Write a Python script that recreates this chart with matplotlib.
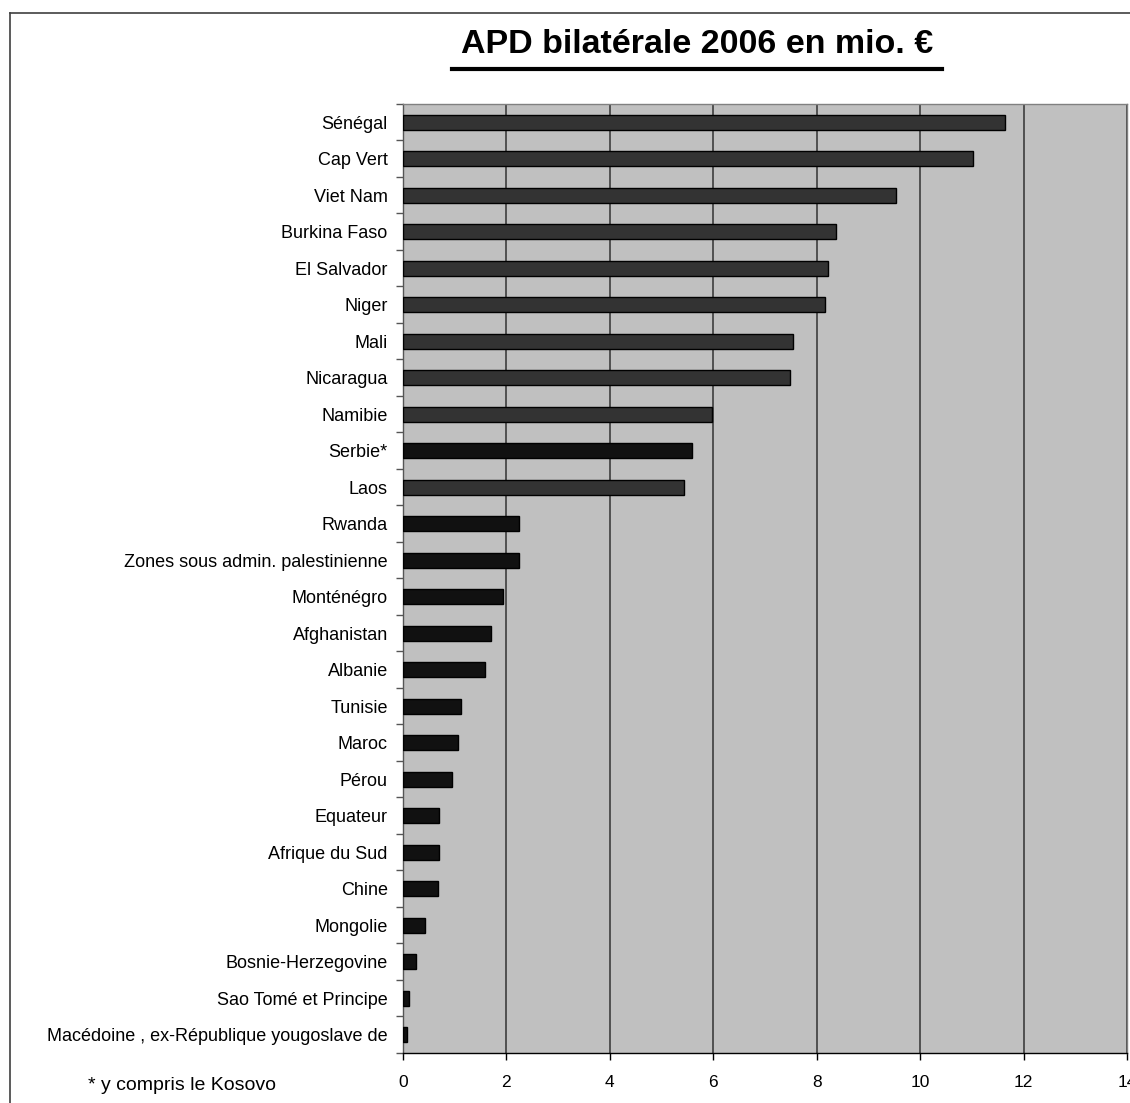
import matplotlib
matplotlib.use("Agg")
import matplotlib.pyplot as plt
from matplotlib.lines import Line2D

plt.rcParams['font.family'] = ['Liberation Sans', 'DejaVu Sans']

countries = [
    "Sénégal", "Cap Vert", "Viet Nam", "Burkina Faso", "El Salvador", "Niger",
    "Mali", "Nicaragua", "Namibie", "Serbie*", "Laos", "Rwanda",
    "Zones sous admin. palestinienne", "Monténégro", "Afghanistan", "Albanie",
    "Tunisie", "Maroc", "Pérou", "Equateur", "Afrique du Sud", "Chine",
    "Mongolie", "Bosnie-Herzegovine", "Sao Tomé et Principe",
    "Macédoine , ex-République yougoslave de",
]
values = [
    11.65, 11.03, 9.53, 8.37, 8.22, 8.16,
    7.54, 7.49, 5.98, 5.58, 5.43, 2.24,
    2.24, 1.94, 1.70, 1.59,
    1.12, 1.06, 0.95, 0.70, 0.70, 0.67,
    0.43, 0.25, 0.11,
    0.07,
]
# partner group: 1 = main partner country (lighter bar), 0 = other
group = [1, 1, 1, 1, 1, 1, 1, 1, 1, 0, 1, 0,
         0, 0, 0, 0, 0, 0, 0, 0, 0, 0, 0, 0, 0, 0]
xticks = [0, 2, 4, 6, 8, 10, 12, 14]
title = "APD bilatérale 2006 en mio. €"
footnote = "* y compris le Kosovo"

W, H = 1130, 1103
fig = plt.figure(figsize=(W / 100, H / 100), dpi=100)
ax = fig.add_axes([403 / W, 1 - 1053 / H, (1127 - 403) / W, (1053 - 104) / H])

ax.set_facecolor("#C0C0C0")
n = len(countries)
ypos = list(range(n))
colors = ["#333333" if g == 1 else "#111111" for g in group]
ax.barh(ypos, values, height=0.41, color=colors, edgecolor="#000000",
        linewidth=1.0, zorder=3)

ax.set_xlim(0, 14)
ax.set_ylim(n - 0.5, -0.5)
ax.set_xticks(xticks)
ax.set_xticklabels([str(t) for t in xticks], fontsize=12.5)
ax.xaxis.grid(True, color="#333333", linewidth=1.1, zorder=0)
ax.set_axisbelow(True)

ax.set_yticks(ypos)
ax.set_yticklabels(countries, fontsize=13)
ax.set_yticks([i - 0.5 for i in range(n + 1)], minor=True)
ax.tick_params(axis="y", which="major", length=0, pad=11)
ax.tick_params(axis="y", which="minor", length=5, width=1.0, color="#555555", direction="out")
ax.tick_params(axis="x", which="major", length=5, width=1.0, color="#000000", pad=11)

for s in ["top", "right"]:
    ax.spines[s].set_color("#808080")
    ax.spines[s].set_linewidth(1.0)
ax.spines["left"].set_color("#555555")
ax.spines["left"].set_linewidth(1.0)
ax.spines["bottom"].set_color("#000000")
ax.spines["bottom"].set_linewidth(1.0)

fig.text(697 / W, 1 - 53 / H, title, fontsize=24.5, fontweight="bold",
         ha="center", va="baseline")
# underline for title
fig.add_artist(Line2D([452 / W, 942 / W], [1 - 69 / H, 1 - 69 / H],
                      color="black", linewidth=3.0))

fig.text(182 / W, 1 - 1085 / H, footnote, fontsize=14, ha="center", va="center")

# outer chart border (extends beyond the image at right and bottom)
fig.add_artist(Line2D([10 / W, 1.01], [1 - 13 / H, 1 - 13 / H], color="#404040", linewidth=1.2))
fig.add_artist(Line2D([10 / W, 10 / W], [1 - 13 / H, -0.01], color="#404040", linewidth=1.2))

fig.savefig("out.png", dpi=100)
